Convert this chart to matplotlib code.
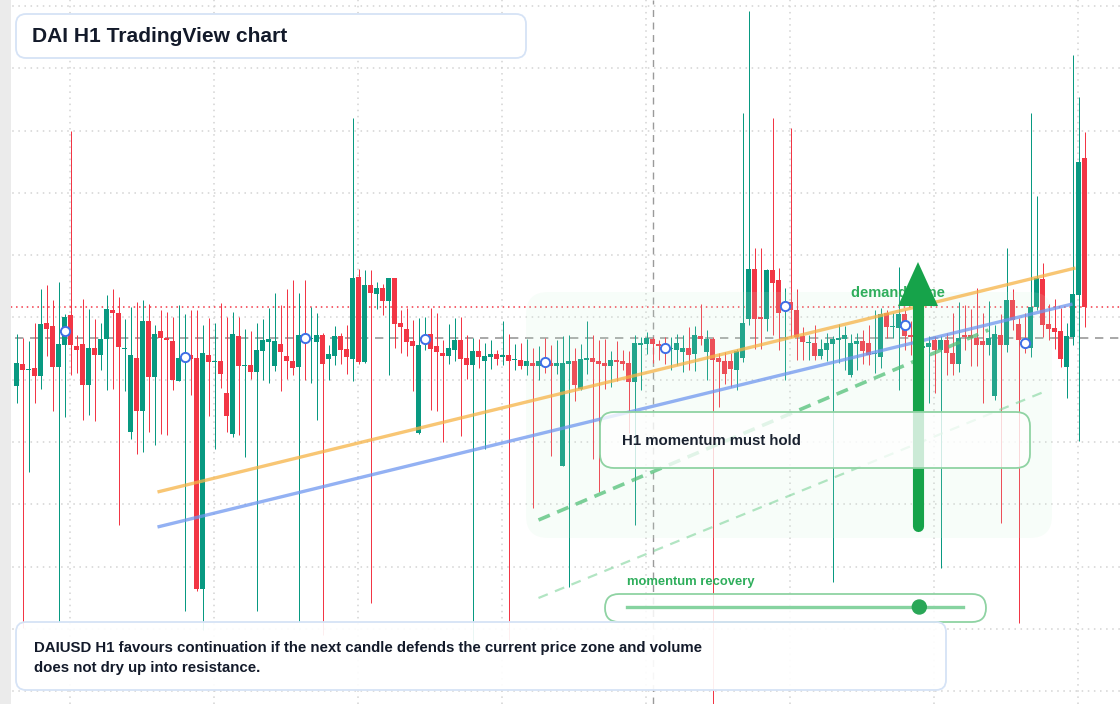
import numpy as np
import matplotlib
matplotlib.use("Agg")
import matplotlib.pyplot as plt
from matplotlib.patches import FancyBboxPatch, Rectangle, Polygon, Circle
from matplotlib.lines import Line2D

# ---------------- data: DAIUSD H1 candles, offsets from 1.0000 in 1e-5 ----------------
BASE = 1.0
UNIT = 1e-5

open_pts = [-48, -26, -32, -30, -38, 15, 12, -29, -7, 23, -8, -6, -47, -10, -17, -1, 28, 25, -11, -94,
            -20, -73, 17, -39, 7, 0, -3, -43, -22, -17, -20, -251, -17, -24, -23, -55, -96, 2, -28, -27,
            -34, -13, -4, -28, -6, -18, -23, -29, 1, -1, -4, 3, -21, -18, 2, -11, -21, 61, -24, 53,
            44, 50, 37, 60, 15, 9, -3, -95, -4, 4, -8, -15, -18, -12, -2, -20, -27, -13, -23, -19,
            -16, -19, -17, -22, -22, -28, -25, -28, -22, -25, -28, -128, -26, -23, -51, -22, -20, -23, -25, -28,
            -22, -23, -25, -44, -7, -6, -1, -6, -9, -11, -12, -14, -10, -16, 2, -14, -1, -20, -23, -23,
            -32, -20, 19, 69, 21, 19, 68, 58, 30, 36, 28, 2, -5, -5, -18, -12, -6, -2, -1, -37,
            -6, -3, -5, -16, -19, 25, 11, 10, 24, 3, -1, -10, -9, -2, -12, -2, -15, -26, 3, 3,
            0, -3, -7, -58, 3, -7, 38, 14, -4, -10, 31, 59, 14, 10, 7, -29, 1, 43, 180]
high_pts = [4, 0, -3, 15, 49, 53, 38, 56, 24, 207, 3, 39, 29, 19, 15, 43, 49, 41, 19, 31,
            36, 38, 34, 13, 28, 26, 21, 33, 24, 28, 28, 13, 20, 15, 35, 21, 26, 21, 9, 7,
            15, 19, 30, 45, 33, 49, 58, 45, 58, 31, 25, 5, -7, 12, 5, 13, 220, 69, 68, 68,
            56, 54, 60, 60, 28, 30, 18, 20, 21, 30, 25, -2, 14, 20, 21, 3, 0, -1, -5, -2,
            -12, 17, 4, -6, -5, -1, -10, -8, 0, -7, -2, 2, 3, -10, -6, 17, 3, -2, -1, -13,
            -3, -12, -13, 3, 1, 6, 1, -2, 1, 1, 4, 3, 11, 12, 34, 8, 1, -15, -14, -15,
            -11, 225, 327, 90, 90, 69, 220, 70, 50, 210, 49, 11, 3, 13, -1, 5, 2, 14, 12, 4,
            5, 8, 13, 28, 30, 28, 25, 71, 28, 17, 8, 3, 2, 2, 2, 5, 25, 36, 33, 29,
            50, 25, 37, 13, 24, 90, 49, 20, 25, 225, 142, 75, 34, 39, 30, 15, 283, 241, 206]
low_pts = [-65, -290, -134, -65, -51, -18, -73, -284, -79, -37, -35, -82, -77, -83, -32, -52, -51, -187, -53, -101,
           -116, -114, -94, -107, -96, -97, -52, -43, -273, -57, -253, -292, -78, -111, -50, -94, -99, -97, -119, -41,
           -273, -42, -45, -33, -53, -41, -37, -284, -42, -45, -82, -297, -42, -27, -26, -36, -43, -26, -25, -265,
           29, 23, -37, -10, -15, -18, -53, -96, -12, -72, -73, -104, -26, -23, -98, -41, -307, -30, -111, -31,
           -27, -27, -302, -32, -31, -37, -170, -42, -35, -118, -36, -128, -249, -63, -52, -36, -121, -154, -51, -49,
           -43, -32, -95, -187, -52, -16, -25, -22, -26, -32, -27, -34, -32, -33, -7, -42, -372, -69, -46, -49,
           -52, -24, 13, -11, -11, 7, 3, -12, -42, 1, -22, -22, -22, -22, -21, -23, -244, -25, -32, -39,
           -32, -26, -27, -35, -30, 0, 0, -52, -12, -17, -22, -20, -65, -55, -230, -37, -37, -34, -12, -28,
           -28, -65, -17, -62, -185, -14, 8, -285, -15, -19, 28, 1, -2, -11, -29, -60, -7, -103, 11]
close_pts = [-25, -32, -31, -38, 14, 9, -29, -6, 21, -7, -12, -47, -10, -17, -1, 29, 25, -9, -10, -17,
             -73, 17, -39, 4, 0, -2, -42, -20, -17, -21, -251, -15, -24, -23, -36, -78, 4, -28, -27, -34,
             -12, -2, -1, -3, -14, -23, -30, 3, -2, 0, 3, -26, -16, 2, -12, -19, 60, -24, 53, 45,
             50, 37, 60, 14, 11, -4, -8, -7, 2, -11, -14, -18, -10, -2, -21, -27, -13, -19, -18, -16,
             -21, -17, -23, -21, -28, -23, -28, -23, -26, -28, -25, -25, -23, -47, -21, -20, -24, -26, -28, -22,
             -24, -26, -44, -5, -5, 0, -6, -8, -11, -10, -5, -10, -17, 3, -1, -1, -22, -24, -36, -31,
             -13, 15, 69, 19, 19, 68, 55, 25, 33, 28, 1, -4, -4, -18, -11, -5, -1, 0, 3, -5,
             -3, -13, -17, -15, 24, 11, 12, 24, 2, 1, -10, -8, -5, -12, -2, -15, -26, 0, 1, 0,
             -7, -7, 0, 4, -7, 38, 18, -2, -6, 31, 60, 13, 9, 6, -21, 2, 44, 176, 31]

marker_every = 20      # session markers every 20 bars
marker_start = 8

# analysis lines (bar index, offset pts)
trend_upper = ([23.5, 176.5], [-154, 70])
trend_lower = ([23.5, 176.0], [-189, 34])
channel_mid = ([87.0, 162.0], [-182, 8])
channel_low = ([87.0, 172.0], [-260, -52])
crosshair_bar = 106
crosshair_pts = 0

title = "DAI H1 TradingView chart"
note_lines = ["DAIUSD H1 favours continuation if the next candle defends the current price zone and volume",
              "does not dry up into resistance."]
box_label = "H1 momentum must hold"
zone_label = "demand zone"
slider_label = "momentum recovery"
slider_value = 0.87

# ---------------- derived ----------------
o = BASE + np.array(open_pts) * UNIT
h = BASE + np.array(high_pts) * UNIT
l = BASE + np.array(low_pts) * UNIT
c = BASE + np.array(close_pts) * UNIT
n = len(o)
idx = np.arange(n)

W, H = 1120, 704
GREEN = "#089981"
RED = "#f23645"
plt.rcParams['font.family'] = ['Liberation Sans', 'DejaVu Sans']

fig = plt.figure(figsize=(W / 100, H / 100), dpi=100)
ax = fig.add_axes([0, 0, 1, 1], zorder=0)
ax.set_facecolor("white")
bar_px = 6.0
x0_px = 16.5
ax.set_xlim(-x0_px / bar_px, (W - x0_px) / bar_px)
ylo, yhi = BASE - 366 * UNIT, BASE + 338 * UNIT
ax.set_ylim(ylo, yhi)
for s in ax.spines.values():
    s.set_visible(False)
ax.tick_params(left=False, bottom=False, labelleft=False, labelbottom=False)

# grid
xt = np.arange(53.0 / bar_px, n + 10, 24)
yt = BASE + (332 - 62.3 * np.arange(0, 12)) * UNIT
ax.set_xticks(xt)
ax.set_yticks(yt)
ax.grid(True, color="#d3d3d3", linestyle=(0, (1.0, 3.0)), linewidth=1.1, zorder=0.5)
ax.set_axisbelow(True)

# crosshair + last price
ax.axvline(crosshair_bar, color="#9a9a9a", linestyle=(0, (5, 4)), linewidth=1.0, zorder=1.5)
ax.axhline(BASE + crosshair_pts * UNIT, color="#9a9a9a", linestyle=(0, (5, 4)), linewidth=1.2, zorder=1.5)
ax.axhline(c[-1], color=RED, linestyle=(0, (1, 2.5)), linewidth=1.1, zorder=1.5)

# candles
cols = np.where(c >= o, GREEN, RED)
ax.vlines(idx, l, h, colors=cols, linewidth=0.72, zorder=2)
body_low = np.minimum(o, c)
body_h = np.maximum(np.abs(c - o), 1.2 * UNIT)
ax.bar(idx, body_h, bottom=body_low, width=0.84, color=cols, linewidth=0, zorder=2.1)

# left strip
ax.add_patch(Rectangle((0, 0), 10.5 / W, 1, transform=ax.transAxes, color="#ebebeb", zorder=5, lw=0))


def pixel_axes(z):
    a = fig.add_axes([0, 0, 1, 1], zorder=z)
    a.set_xlim(0, W)
    a.set_ylim(H, 0)
    a.axis("off")
    a.patch.set_alpha(0)
    return a


# light demand panel
ap = pixel_axes(1)
ap.add_patch(FancyBboxPatch((526, 292), 526, 246, boxstyle="round,pad=0,rounding_size=22",
                            facecolor=(0.80, 0.95, 0.84), alpha=0.14, edgecolor="none"))

# analysis lines + markers in data coords
al = fig.add_axes([0, 0, 1, 1], zorder=2)
al.set_xlim(ax.get_xlim())
al.set_ylim(ax.get_ylim())
al.axis("off")
al.patch.set_alpha(0)


def pts(v):
    return BASE + np.array(v) * UNIT


al.plot(trend_upper[0], pts(trend_upper[1]), color="#f6b346", alpha=0.75, lw=2.4, solid_capstyle="butt")
al.plot(trend_lower[0], pts(trend_lower[1]), color="#6f97ef", alpha=0.75, lw=2.4, solid_capstyle="butt")
al.plot(channel_mid[0], pts(channel_mid[1]), color="#52c078", alpha=0.75, lw=2.6,
        linestyle=(0, (3.4, 2.2)))
al.plot(channel_low[0], pts(channel_low[1]), color="#7fd49b", alpha=0.6, lw=1.6,
        linestyle=(0, (4.5, 3.5)))
mk = np.arange(marker_start, n, marker_every)
al.scatter(mk, (o[mk] + c[mk]) / 2, s=44, facecolor="white", edgecolor="#3f6fe6", linewidth=1.4, zorder=4)

# top annotation layer
at = pixel_axes(3)
at.text(851, 293, zone_label, color="#2fae5c", fontsize=10.5, fontweight="bold", va="center", ha="left", zorder=0.5)
# arrow
at.add_line(Line2D([918, 918], [302, 526], color="#16a34a", lw=8, solid_capstyle="round", zorder=1))
at.add_patch(Polygon([[898, 306], [938, 306], [918, 262]], closed=True, color="#16a34a", zorder=1, lw=0))

# H1 box
at.add_patch(FancyBboxPatch((600, 412), 430, 56, boxstyle="round,pad=0,rounding_size=14",
                            facecolor="white", alpha=0.78, edgecolor="none", zorder=2))
at.add_patch(FancyBboxPatch((600, 412), 430, 56, boxstyle="round,pad=0,rounding_size=14",
                            facecolor="none", edgecolor="#8fd3a3", lw=1.3, zorder=2.1))
at.text(622, 441, box_label, color="#1a2230", fontsize=10.85, fontweight="bold", va="center", ha="left", zorder=3)

# slider
at.text(627, 582, slider_label, color="#2fae5c", fontsize=9.4, fontweight="bold", va="center", ha="left", zorder=3)
at.add_patch(FancyBboxPatch((605, 594), 381, 28, boxstyle="round,pad=0,rounding_size=14",
                            facecolor="white", alpha=0.85, edgecolor="none", zorder=2))
at.add_patch(FancyBboxPatch((605, 594), 381, 28, boxstyle="round,pad=0,rounding_size=14",
                            facecolor="none", edgecolor="#8fd3a3", lw=1.3, zorder=2.1))
sx0, sx1 = 627, 963
at.add_line(Line2D([sx0, sx1], [607, 607], color="#86d3a0", lw=2.4, zorder=3))
at.add_patch(Circle((sx0 + slider_value * (sx1 - sx0), 607), 7, color="#2aa757", zorder=3.2))

# title box
at.add_patch(FancyBboxPatch((16, 14), 510, 44, boxstyle="round,pad=0,rounding_size=10",
                            facecolor="white", edgecolor="#d6e3f6", lw=1.3, zorder=2))
at.text(32, 36.5, title, color="#131a2a", fontsize=15.1, fontweight="bold", va="center", ha="left", zorder=3)

# bottom note box
at.add_patch(FancyBboxPatch((16, 622), 930, 68, boxstyle="round,pad=0,rounding_size=10",
                            facecolor="white", alpha=0.92, edgecolor="none", zorder=2))
at.add_patch(FancyBboxPatch((16, 622), 930, 68, boxstyle="round,pad=0,rounding_size=10",
                            facecolor="none", edgecolor="#d6e3f6", lw=1.3, zorder=2.1))
at.text(34, 648, note_lines[0], color="#131a2a", fontsize=10.85, fontweight="bold", va="center", ha="left", zorder=3)
at.text(34, 668, note_lines[1], color="#131a2a", fontsize=10.85, fontweight="bold", va="center", ha="left", zorder=3)

fig.savefig("out.png", dpi=100)
